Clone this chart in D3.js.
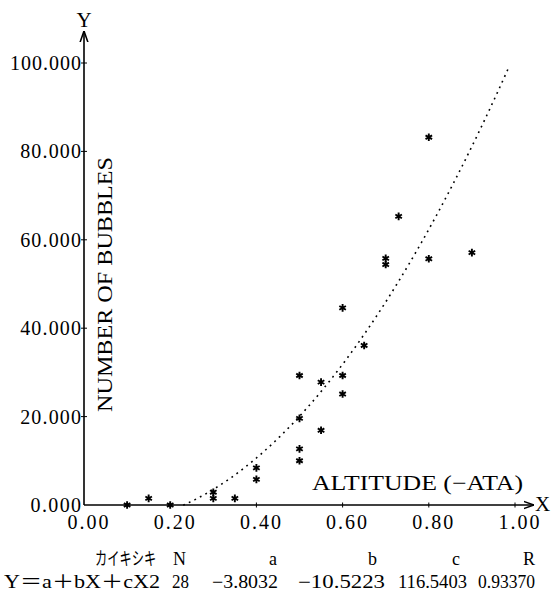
<!DOCTYPE html>
<html>
<head>
<meta charset="utf-8">
<script src="https://cdn.jsdelivr.net/npm/d3@7"></script>
<style>
  html, body { margin: 0; padding: 0; background: #fff; }
  svg { display: block; }
</style>
</head>
<body>
<div id="chart"></div>
<script>
// Data
const altitude = [0.10, 0.15, 0.20, 0.30, 0.30, 0.35, 0.40, 0.40, 0.50, 0.50, 0.50, 0.50,
                  0.55, 0.55, 0.60, 0.60, 0.60, 0.65, 0.70, 0.70, 0.73, 0.80, 0.80, 0.90];
const bubbles  = [0.0, 1.5, 0.0, 2.9, 1.5, 1.5, 8.4, 5.8, 29.3, 19.6, 12.7, 10.0,
                  27.8, 16.9, 44.6, 29.3, 25.1, 36.1, 55.8, 54.4, 65.3, 83.2, 55.7, 57.1];

// regression Y = a + bX + cX2
const fitCoef = [-3.8032, -10.5223, 116.5403];
const fitRange = [0.23, 0.985];

const xTicks = [0, 0.2, 0.4, 0.6, 0.8, 1.0];
const yTicks = [0, 20, 40, 60, 80, 100];

const statHeads = ["カイキシキ", "N", "a", "b", "c", "R"];
const statVals  = ["Y＝a＋bX＋cX2", "28", "−3.8032", "−10.5223", "116.5403", "0.93370"];

const width = 555, height = 592;
const serif = "Liberation Serif, DejaVu Serif, Noto Sans CJK JP, serif";

const x = d3.scaleLinear().domain([0, 1]).range([84, 515]);
const y = d3.scaleLinear().domain([0, 100]).range([505, 63]);

const svg = d3.select("#chart").append("svg")
    .attr("width", width)
    .attr("height", height)
    .attr("font-family", serif)
    .style("background", "#fff");

// arrow head
svg.append("defs").append("marker")
    .attr("id", "arrow")
    .attr("viewBox", "0 0 10 10")
    .attr("refX", 10).attr("refY", 5)
    .attr("markerWidth", 7).attr("markerHeight", 7)
    .attr("orient", "auto")
    .append("path")
    .attr("d", "M0,1.5 L10,5 L0,8.5")
    .attr("fill", "none")
    .attr("stroke", "#000")
    .attr("stroke-width", 1.4);

// axes lines
svg.append("line")
    .attr("x1", x(0)).attr("x2", 534)
    .attr("y1", y(0)).attr("y2", y(0))
    .attr("stroke", "#000").attr("stroke-width", 1.5)
    .attr("marker-end", "url(#arrow)");

svg.append("line")
    .attr("x1", x(0)).attr("x2", x(0))
    .attr("y1", y(0)).attr("y2", 31)
    .attr("stroke", "#000").attr("stroke-width", 1.6)
    .attr("marker-end", "url(#arrow)");

// x ticks
svg.append("g").selectAll("line").data(xTicks.slice(1)).join("line")
    .attr("x1", d => x(d)).attr("x2", d => x(d))
    .attr("y1", y(0) - 2.5).attr("y2", y(0) + 2.5)
    .attr("stroke", "#000").attr("stroke-width", 1);

svg.append("g").selectAll("text").data(xTicks).join("text")
    .attr("x", d => x(d) + 4)
    .attr("y", 529)
    .attr("text-anchor", "middle")
    .attr("font-size", 20)
    .attr("textLength", 41)
    .attr("lengthAdjust", "spacing")
    .text(d => d3.format(".2f")(d));

// y ticks
svg.append("g").selectAll("line").data(yTicks.slice(1)).join("line")
    .attr("x1", x(0) - 3).attr("x2", x(0) + 3)
    .attr("y1", d => y(d)).attr("y2", d => y(d))
    .attr("stroke", "#000").attr("stroke-width", 1);

svg.append("g").selectAll("text").data(yTicks).join("text")
    .attr("x", 81)
    .attr("y", d => y(d) + 7)
    .attr("text-anchor", "end")
    .attr("font-size", 20)
    .attr("textLength", d => d3.format(".3f")(d).length * 10.3 - 1)
    .attr("lengthAdjust", "spacing")
    .text(d => d3.format(".3f")(d));

// axis letters
svg.append("text")
    .attr("x", x(0)).attr("y", 27)
    .attr("text-anchor", "middle")
    .attr("font-size", 21)
    .text("Y");

svg.append("text")
    .attr("x", 535).attr("y", 511)
    .attr("font-size", 21)
    .text("X");

// axis titles
svg.append("text")
    .attr("transform", "translate(112,412) rotate(-90)")
    .attr("font-size", 21)
    .attr("textLength", 255)
    .attr("lengthAdjust", "spacingAndGlyphs")
    .text("NUMBER OF BUBBLES");

svg.append("text")
    .attr("x", 312).attr("y", 490)
    .attr("font-size", 21)
    .attr("textLength", 211)
    .attr("lengthAdjust", "spacingAndGlyphs")
    .text("ALTITUDE (−ATA)");

// fitted curve, dotted
const fitLine = d3.line()
    .x(d => x(d))
    .y(d => y(Math.max(0, fitCoef[0] + fitCoef[1] * d + fitCoef[2] * d * d)));

svg.append("path")
    .datum(d3.range(fitRange[0], fitRange[1] + 1e-9, 0.0025))
    .attr("d", fitLine)
    .attr("fill", "none")
    .attr("stroke", "#000")
    .attr("stroke-width", 1.6)
    .attr("stroke-dasharray", "1.8 4.4");

// points
const star = d3.symbol().type(d3.symbolAsterisk).size(40);
svg.append("g").selectAll("path").data(altitude).join("path")
    .attr("transform", (d, i) => `translate(${x(d)},${y(bubbles[i])})`)
    .attr("d", star)
    .attr("fill", "none")
    .attr("stroke", "#000")
    .attr("stroke-width", 1.9);

// regression table
const headRow = svg.append("g").attr("font-size", 18);

// kana squeezed horizontally, like the printout
headRow.append("text")
    .attr("transform", "translate(95,565) scale(0.68,1)")
    .attr("font-family", "Noto Sans CJK JP, sans-serif")
    .attr("font-size", 18)
    .text(statHeads[0]);

headRow.append("text")
    .attr("x", 173).attr("y", 565)
    .text(statHeads[1]);

const headEnds = [277, 377, 460, 535];
statHeads.slice(2).forEach((t, i) => {
    headRow.append("text")
        .attr("x", headEnds[i]).attr("y", 565)
        .attr("text-anchor", "end")
        .text(t);
});

const valRow = svg.append("g").attr("font-size", 18);

valRow.append("text")
    .attr("x", 4).attr("y", 588)
    .attr("textLength", 156)
    .attr("lengthAdjust", "spacingAndGlyphs")
    .text(statVals[0]);

const valStarts = [172, 212, 298, 398, 478];
const valEnds = [189, 278, 385, 467, 535];
statVals.slice(1).forEach((t, i) => {
    valRow.append("text")
        .attr("x", valStarts[i]).attr("y", 588)
        .attr("textLength", valEnds[i] - valStarts[i])
        .attr("lengthAdjust", "spacingAndGlyphs")
        .text(t);
});
</script>
</body>
</html>
